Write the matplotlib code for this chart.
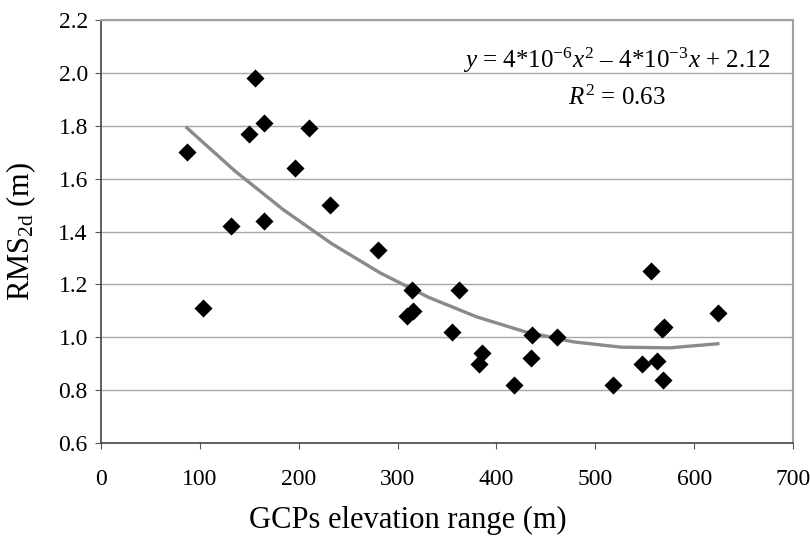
import numpy as np
import matplotlib.pyplot as plt

plt.rcParams['font.family'] = ['Liberation Serif', 'DejaVu Serif']
plt.rcParams['mathtext.fontset'] = 'custom'
plt.rcParams['mathtext.rm'] = 'Liberation Serif'
plt.rcParams['mathtext.it'] = 'Liberation Serif:italic'

# GCPs elevation range (m) and RMS2d (m)
elev = [87, 103, 132, 150, 156, 165, 165, 196, 210, 232, 280, 310, 315, 316,
        355, 362, 382, 385, 418, 435, 436, 461, 518, 547, 556, 562, 567, 568,
        570, 624]
rms = [1.70, 1.11, 1.42, 1.77, 1.98, 1.81, 1.44, 1.64, 1.79, 1.50, 1.33, 1.08,
       1.18, 1.10, 1.02, 1.18, 0.90, 0.94, 0.82, 0.92, 1.01, 1.00, 0.82, 0.90,
       1.25, 0.91, 1.03, 0.84, 1.04, 1.09]
xticks = [0, 100, 200, 300, 400, 500, 600, 700]
yticks = [0.6, 0.8, 1.0, 1.2, 1.4, 1.6, 1.8, 2.0, 2.2]

fig = plt.figure(figsize=(8.1, 5.42), dpi=100)
ax = fig.add_axes([0.1247, 0.1827, 0.8543, 0.7803])

# quadratic trend line fitted to the points
coef = np.polyfit(elev, rms, 2)
xs = np.linspace(min(elev), max(elev), 12)
ax.plot(xs, np.polyval(coef, xs), color='#8a8a8a', lw=2.4, zorder=2)

ax.scatter(elev, rms, marker='D', s=85, color='black', zorder=3, linewidths=0)

ax.set_xlim(0, 700)
ax.set_ylim(0.6, 2.2)
ax.set_xticks(xticks)
ax.set_yticks(yticks)
ax.set_yticklabels([f'{v:.1f}' for v in yticks])
ax.tick_params(labelsize=17, length=4.5, color='#555555')
ax.tick_params(axis='x', pad=14)
ax.tick_params(axis='y', pad=5)
ax.grid(axis='y', color='#a8a8a8', lw=1)
ax.set_axisbelow(True)
for s in ['top', 'right']:
    ax.spines[s].set_color('#a0a0a0')
    ax.spines[s].set_linewidth(1.5)
for s in ['left', 'bottom']:
    ax.spines[s].set_color('#444444')
    ax.spines[s].set_linewidth(1.2)

ax.set_xlabel('GCPs elevation range (m)', fontsize=22, va='center')
ax.xaxis.set_label_coords(0.444, -0.183)
ax.set_ylabel(r'RMS$_{\mathrm{2d}}$ (m)', fontsize=22, va='center')
ax.yaxis.set_label_coords(-0.115, 0.5)

ax.text(0.745, 0.905, r'$y$ = 4*10$^{-6}$$x^2$ – 4*10$^{-3}$$x$ + 2.12',
        transform=ax.transAxes, ha='center', va='center', fontsize=18)
ax.text(0.745, 0.815, r'$R^2$ = 0.63', transform=ax.transAxes,
        ha='center', va='center', fontsize=18)

fig.savefig('out.png', dpi=100)
